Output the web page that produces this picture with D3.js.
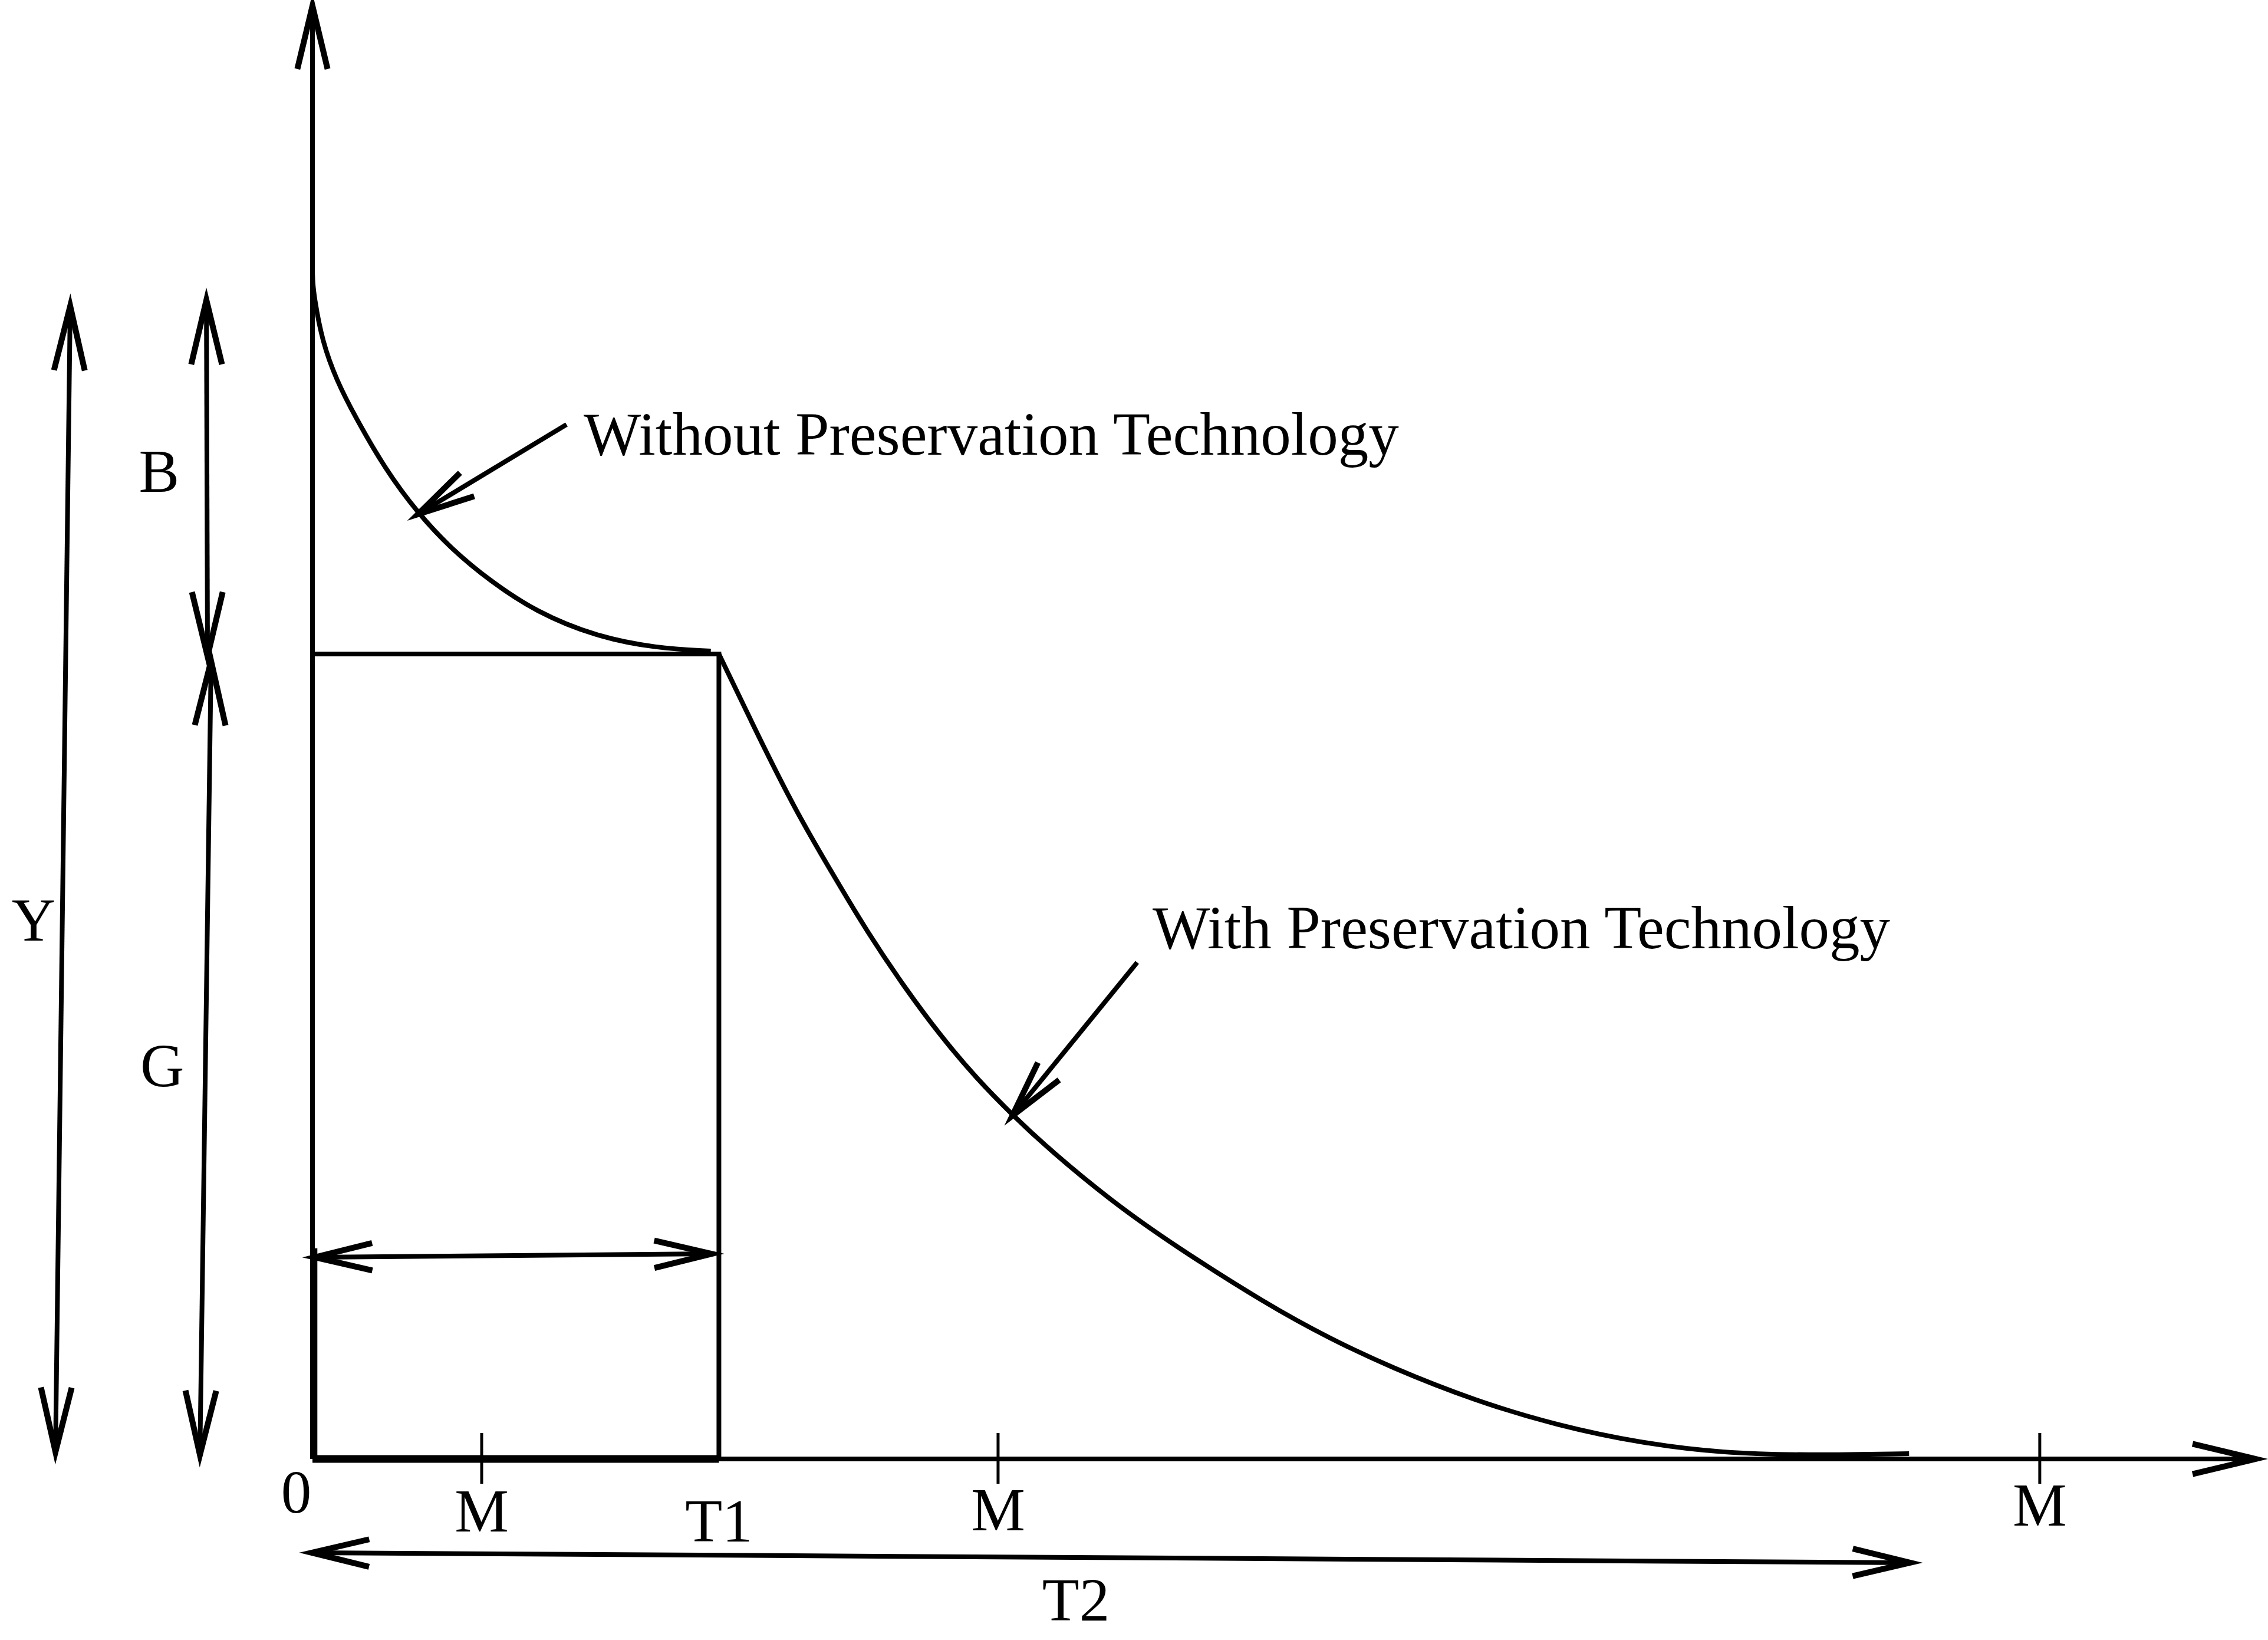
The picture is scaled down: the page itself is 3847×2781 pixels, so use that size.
<!DOCTYPE html>
<head>
  <meta charset="utf-8">
  <style>
  body {
    margin: 0;
    background: #fff;
  }

  svg {
    display: block;
  }

  text {
    font-family: "Liberation Serif", "Times New Roman", serif;
    font-size: 103px;
    fill: #000;
  }

  .line {
    fill: none;
    stroke: #000;
    stroke-width: 8px;
  }

  .head {
    fill: none;
    stroke: #000;
    stroke-width: 10px;
    stroke-linejoin: miter;
    stroke-miterlimit: 12;
  }
  </style>
  <title>Inventory with and without preservation technology</title>
</head>
<body>
  <svg width="3847" height="2781"></svg>
  <script src="https://d3js.org/d3.v7.min.js"></script>
  <script>
  // time axis: 0 .. xEnd, inventory axis: 0 .. yEnd
  var xEnd = 120, yEnd = 100;
  var T1 = 25.1, T2 = 98.6;
  var G = 55.4;
  var mTicks = [10.45, 42.34, 106.67];

  // inventory level without preservation technology (0 .. T1)
  var withoutTech = [
    [0, 81.7], [0.02, 81.0], [0.1, 80.0], [0.6, 76.9], [1.5, 74.2], [2.6, 71.8],
    [4.5, 68.1], [6.5, 65.1], [8.6, 62.6], [11.0, 60.4], [13.8, 58.3],
    [17.5, 56.6], [21.2, 55.8], [24.6, 55.6]
  ];

  // inventory level with preservation technology (T1 .. T2)
  var withTech = [
    [25.1, 55.4], [27.6, 49.6], [29.8, 44.7], [32.1, 40.3], [34.3, 36.2],
    [36.6, 32.4], [38.8, 29.1], [41.0, 26.2], [43.2, 23.7], [45.6, 21.2],
    [49.4, 17.7], [53.2, 14.7], [59.0, 10.6], [62.8, 8.3], [66.6, 6.3],
    [71.8, 4.0], [76.9, 2.3], [82.0, 1.1], [87.1, 0.4], [92.2, 0.25], [98.6, 0.37]
  ];

  // labels under the time axis
  var xLabels = [
    {text: "0",  x: -1.0,  y: -3.7},
    {text: "M",  x: 10.45, y: -5.0},
    {text: "T1", x: 25.1,  y: -5.7},
    {text: "M",  x: 42.34, y: -4.9},
    {text: "M",  x: 106.67, y: -4.6},
    {text: "T2", x: 47.15, y: -11.1}
  ];

  // vertical dimension arrows (Y, B, G)
  var spans = [
    {text: "Y", x1: -14.96, y1: 79.34, x2: -15.87, y2: 0.49, lx: -17.22, ly: 35.67},
    {text: "B", x1: -6.55,  y1: 79.75, x2: -6.48,  y2: 55.24, lx: -9.47,  ly: 66.56},
    {text: "G", x1: -6.26,  y1: 54.91, x2: -6.95,  y2: 0.28,  lx: -9.28,  ly: 25.65}
  ];

  // horizontal dimension arrows (0..T1 and 0..T2)
  var hSpans = [
    {x1: 0.15,  y1: 13.88, x2: 24.65, y2: 14.12},
    {x1: -0.04, y1: -6.45, x2: 98.66, y2: -7.14}
  ];

  // callouts
  var notes = [
    {text: "Without Preservation Technology", x0: 15.69, y0: 71.19, x1: 6.52, y1: 65.02, tx: 16.75, ty: 69.12},
    {text: "With Preservation Technology",    x0: 50.93, y0: 34.17, x1: 43.22, y1: 23.62, tx: 51.88, ty: 35.15}
  ];

  var svg = d3.select("svg");

  var x = d3.scaleLinear().domain([0, xEnd]).range([530, 3826]);
  var y = d3.scaleLinear().domain([0, yEnd]).range([2474, 10]);

  var line = d3.line()
      .x(function(d) { return x(d[0]); })
      .y(function(d) { return y(d[1]); });

  function head(x0, y0, x1, y1, len) {
    var a = Math.atan2(y0 - y1, x0 - x1),
        s = 0.235;
    var p1 = [x1 + len * Math.cos(a + s), y1 + len * Math.sin(a + s)],
        p2 = [x1 + len * Math.cos(a - s), y1 + len * Math.sin(a - s)];
    svg.append("path")
        .attr("class", "head")
        .attr("d", d3.line()([p1, [x1, y1], p2]));
  }

  function arrow(a, b, both, len) {
    var x0 = x(a[0]), y0 = y(a[1]), x1 = x(b[0]), y1 = y(b[1]);
    svg.append("path")
        .attr("class", "line")
        .attr("d", d3.line()([[x0, y0], [x1, y1]]));
    head(x0, y0, x1, y1, len);
    if (both) head(x1, y1, x0, y0, len);
  }

  // axes
  arrow([0, 0], [0, yEnd], false, 110);
  arrow([0, 0], [xEnd, 0], false, 110);

  // heavier strokes along the axes below T1
  svg.append("path")
      .attr("class", "line")
      .style("stroke-width", "13px")
      .attr("d", line([[0, 0], [T1, 0]]));
  svg.append("path")
      .attr("class", "line")
      .style("stroke-width", "10px")
      .attr("d", line([[0.12, 0], [0.12, 14.5]]));

  // ticks
  svg.selectAll(".tick")
    .data(mTicks)
    .enter().append("line")
      .attr("class", "line")
      .style("stroke-width", "5px")
      .attr("x1", function(d) { return x(d); })
      .attr("x2", function(d) { return x(d); })
      .attr("y1", y(0) - 44)
      .attr("y2", y(0) + 42);

  // box 0..T1 at level G
  svg.append("path")
      .attr("class", "line")
      .attr("d", line([[0, G], [T1, G], [T1, 0]]));

  // curves
  var smooth = line.curve(d3.curveBasis);

  svg.append("path")
      .datum(withoutTech)
      .attr("class", "line")
      .attr("d", smooth);

  svg.append("path")
      .datum(withTech)
      .attr("class", "line")
      .attr("d", smooth);

  // dimension arrows
  spans.forEach(function(d) {
    arrow([d.x1, d.y1], [d.x2, d.y2], true, 112);
    svg.append("text")
        .attr("x", x(d.lx))
        .attr("y", y(d.ly))
        .attr("text-anchor", "middle")
        .text(d.text);
  });

  hSpans.forEach(function(d) {
    arrow([d.x1, d.y1], [d.x2, d.y2], true, 100);
  });

  // callouts
  notes.forEach(function(d) {
    arrow([d.x0, d.y0], [d.x1, d.y1], false, 100);
    svg.append("text")
        .attr("x", x(d.tx))
        .attr("y", y(d.ty))
        .text(d.text);
  });

  svg.selectAll(".xlab")
    .data(xLabels)
    .enter().append("text")
      .attr("x", function(d) { return x(d.x); })
      .attr("y", function(d) { return y(d.y); })
      .attr("text-anchor", "middle")
      .text(function(d) { return d.text; });
  </script>
</body>
